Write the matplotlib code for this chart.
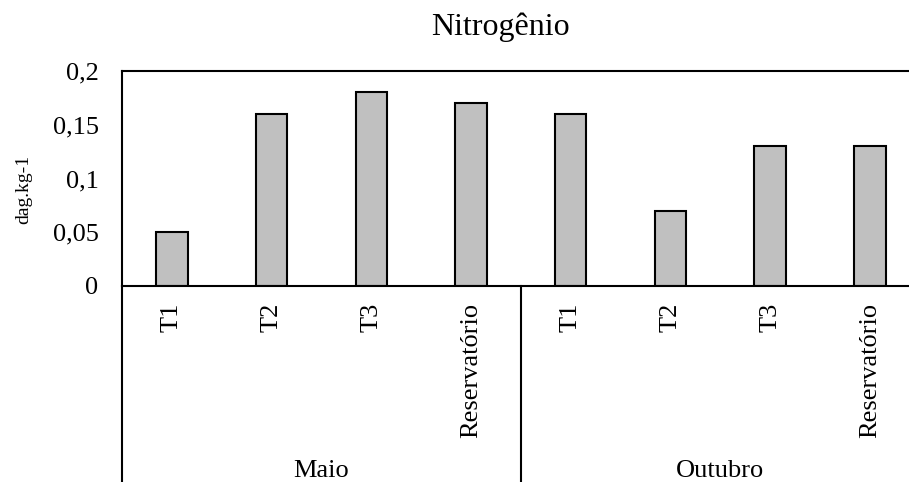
import matplotlib.pyplot as plt

plt.rcParams['font.family'] = ['Liberation Serif', 'DejaVu Serif']

categories = ['T1', 'T2', 'T3', 'Reservatório', 'T1', 'T2', 'T3', 'Reservatório']
groups = ['Maio', 'Outubro']
values = [0.05, 0.16, 0.18, 0.17, 0.16, 0.07, 0.13, 0.13]
yticks = [0, 0.05, 0.1, 0.15, 0.2]
ytick_labels = ['0', '0,05', '0,1', '0,15', '0,2']

fig = plt.figure(figsize=(9.09, 4.82), dpi=100)
# plot area runs past the right edge of the image, as in the original
ax = fig.add_axes([122.2 / 909, 1 - 286 / 482, 797.5 / 909, (286 - 71) / 482])

x = range(len(values))
ax.bar(x, values, width=0.315, color='#c0c0c0', edgecolor='black', linewidth=1.5, zorder=2)

ax.set_xlim(-0.5, len(values) - 0.5)
ax.set_ylim(0, 0.2)
ax.set_yticks(yticks)
ax.set_yticklabels(ytick_labels, fontsize=19)
ax.set_xticks(list(x))
ax.set_xticklabels(categories, rotation=90, fontsize=19, va='top')
ax.tick_params(axis='y', length=0, pad=17)
ax.tick_params(axis='x', length=0, pad=12)
for s in ax.spines.values():
    s.set_linewidth(1.5)

# group separators and labels under the category labels
tr = ax.get_xaxis_transform()
n = len(categories) // len(groups)
for g in range(len(groups) + 1):
    xs = g * n - 0.5
    ax.plot([xs, xs], [0, -0.95], color='black', lw=1.5, transform=tr, clip_on=False)
for g, name in enumerate(groups):
    ax.text(g * n + (n - 1) / 2, -0.86, name, transform=tr, ha='center', va='center', fontsize=19)

ax.set_ylabel('dag.kg-1', fontsize=14)
ax.yaxis.set_label_coords(-0.113, 0.45)
fig.text(500 / 909, 1 - 27 / 482, 'Nitrogênio', ha='center', va='center', fontsize=23)

fig.savefig('out.png', dpi=100)
